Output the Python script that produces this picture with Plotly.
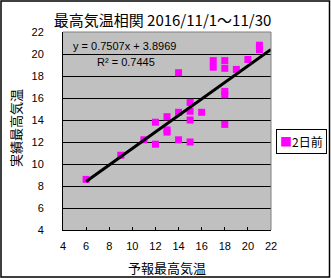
import plotly.graph_objects as go

# Data (forecast max temp vs actual max temp, 2 days ahead)
forecast = [6, 9, 11, 12, 12, 13, 13, 13, 14, 14, 14, 15, 15, 15, 15, 16,
            17, 17, 18, 18, 18, 18, 18, 19, 20, 21, 21]
actual = [8.6, 10.8, 12.2, 13.8, 11.8, 14.3, 13.1, 12.9, 18.3, 14.7, 12.2,
          15.6, 14.8, 14.0, 12.0, 14.7, 19.4, 18.8, 19.4, 18.7, 16.6, 16.3,
          13.6, 18.6, 19.5, 20.8, 20.4]
slope = 0.7507
intercept = 3.8969
r2 = 0.7445
trend_x = [6, 22]
x_ticks = list(range(4, 23, 2))
y_ticks = list(range(4, 23, 2))
series_name = "2日前"

fig = go.Figure()
fig.add_trace(go.Scatter(
    x=forecast, y=actual, mode="markers", name=series_name, showlegend=False,
    marker=dict(symbol="square", size=7, color="#FF00FF", line=dict(width=0)),
))
fig.add_trace(go.Scatter(
    x=trend_x, y=[slope * v + intercept for v in trend_x], mode="lines",
    line=dict(color="black", width=3), showlegend=False, hoverinfo="skip",
))

L, R, T, B = 63, 60, 32, 48
W, H = 331, 278
pw, ph = W - L - R, H - T - B

def px_x(p):
    return (p - L) / pw

def px_y(p):
    return (H - B - p) / ph

JP = "Noto Sans CJK JP"
fig.update_layout(
    width=W, height=H,
    margin=dict(l=L, r=R, t=T, b=B),
    paper_bgcolor="white", plot_bgcolor="#C0C0C0",
    font=dict(family="Liberation Sans, Arial, sans-serif", size=11, color="black"),
    xaxis=dict(
        range=[4, 22], tickvals=x_ticks, ticktext=[str(v) for v in x_ticks],
        showgrid=False, zeroline=False, showline=True, linecolor="black", linewidth=1,
        ticks="inside", ticklen=3, tickcolor="black", ticklabelstandoff=6,
    ),
    yaxis=dict(
        range=[4, 22], tickvals=y_ticks, ticktext=[str(v) for v in y_ticks],
        showgrid=True, gridcolor="black", gridwidth=1, zeroline=False,
        showline=True, linecolor="black", linewidth=1,
        ticks="", ticklabelstandoff=16,
    ),
    title=dict(text="最高気温相関 2016/11/1～11/30", x=162.5 / W,
               xanchor="center", xref="container",
               y=1 - 21 / H, yanchor="middle",
               font=dict(family=JP, size=15)),
    shapes=[
        dict(type="rect", xref="paper", yref="paper", x0=px_x(1), x1=px_x(329.5),
             y0=px_y(277), y1=px_y(1), line=dict(color="black", width=1.5), layer="above"),
        dict(type="line", xref="paper", yref="paper", x0=0, x1=1, y0=1, y1=1,
             line=dict(color="#808080", width=1)),
        dict(type="line", xref="paper", yref="paper", x0=1, x1=1, y0=0, y1=1,
             line=dict(color="#808080", width=1)),
    ],
    annotations=[
        dict(text="y = 0.7507x + 3.8969", xref="paper", yref="paper",
             x=px_x(71), y=px_y(46), xanchor="left", yanchor="middle", showarrow=False,
             font=dict(size=11)),
        dict(text="R² = 0.7445", xref="paper", yref="paper",
             x=px_x(95), y=px_y(62), xanchor="left", yanchor="middle", showarrow=False,
             font=dict(size=11)),
        dict(text="予報最高気温", xref="paper", yref="paper",
             x=px_x(167), y=px_y(267), xanchor="center", yanchor="middle",
             showarrow=False, font=dict(family=JP, size=13)),
        dict(text="実績最高気温", xref="paper", yref="paper", textangle=-90,
             x=px_x(15), y=px_y(128), xanchor="center", yanchor="middle",
             showarrow=False, font=dict(family=JP, size=13)),
        dict(text="<span style='color:#FF00FF'>■</span>" + series_name,
             xref="paper", yref="paper",
             x=px_x(301), y=px_y(141.5), xanchor="center", yanchor="middle",
             showarrow=False, font=dict(family=JP, size=12),
             bgcolor="white", bordercolor="black", borderwidth=1, borderpad=3),
    ],
)

fig.write_html("out.html")
